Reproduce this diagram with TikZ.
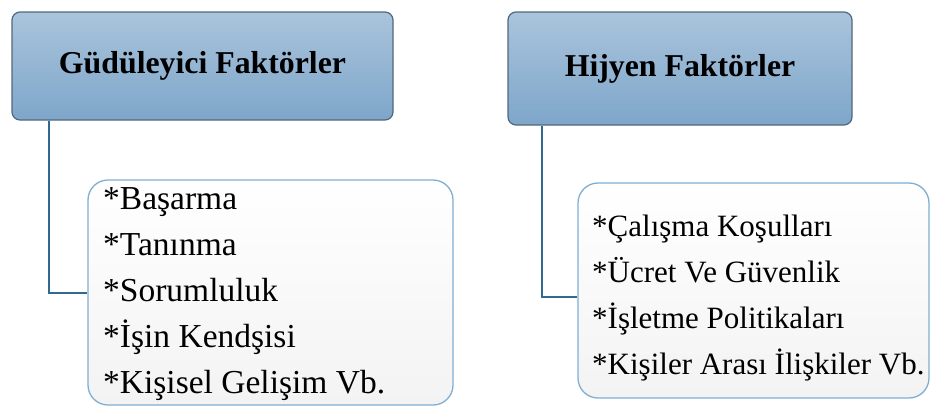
\documentclass[tikz,border=0pt]{standalone}
\usepackage{fontspec}
\setmainfont{Liberation Serif}
\usetikzlibrary{positioning}
\definecolor{hfInk}{HTML}{000000}
\definecolor{hfHeadTop}{HTML}{AAC4DC}
\definecolor{hfHeadBot}{HTML}{7EA6CA}
\definecolor{hfHeadEdge}{HTML}{51687C}
\definecolor{hfLink}{HTML}{316A90}
\definecolor{hfListEdge}{HTML}{7FAFD2}
\definecolor{hfListBot}{HTML}{F3F3F3}
\tikzset{
  hf header/.style={
    draw=hfHeadEdge, line width=1.2pt, rounded corners=8pt,
    top color=hfHeadTop, bottom color=hfHeadBot,
    font=\fontsize{31.8}{36}\selectfont\bfseries, text=hfInk
  },
  hf list/.style={
    draw=hfListEdge, line width=1.3pt, rounded corners=20pt,
    top color=white, bottom color=hfListBot
  },
  hf item/.style={font=\fontsize{33.5}{40}\selectfont, text=hfInk, inner sep=0pt},
  hf item small/.style={hf item, font=\fontsize{31}{40}\selectfont},
  hf link/.style={draw=hfLink, line width=2pt}
}

\begin{document}
\begin{tikzpicture}[x=1pt,y=-1pt]
  \useasboundingbox (0,0) rectangle (931,407);

  % header boxes
  \node[hf header, minimum width=381pt, minimum height=108pt] (hdrA) at (202.5,66) {Güdüleyici Faktörler};
  \node[hf header, minimum width=344pt, minimum height=113pt] (hdrB) at (680,68.5) {Hijyen Faktörler};

  % list boxes
  \node[hf list, minimum width=365pt, minimum height=225pt] (listA) at (270.5,292.5) {};
  \node[hf list, minimum width=351pt, minimum height=215pt] (listB) at (753.5,290.5) {};

  % connectors
  \coordinate (dropA) at ([xshift=38pt]hdrA.south west);
  \coordinate (dropB) at ([xshift=35pt]hdrB.south west);
  \draw[hf link] (dropA) |- (listA.west);
  \draw[hf link] (dropB) |- ([yshift=-6.5pt]listB.west);

  % items
  \foreach \txt [count=\i] in {*Başarma,*Tanınma,*Sorumluluk,*İşin Kendşisi,*Kişisel Gelişim Vb.}
    \node[hf item, anchor=base west] (motA\i) at (103,{209+46*(\i-1)}) {\txt};
  \foreach \txt [count=\i] in {*Çalışma Koşulları,*Ücret Ve Güvenlik,*İşletme Politikaları,*Kişiler Arası İlişkiler Vb.}
    \node[hf item small, anchor=base west] (hygB\i) at (592,{236+46*(\i-1)}) {\txt};
\end{tikzpicture}
\end{document}
